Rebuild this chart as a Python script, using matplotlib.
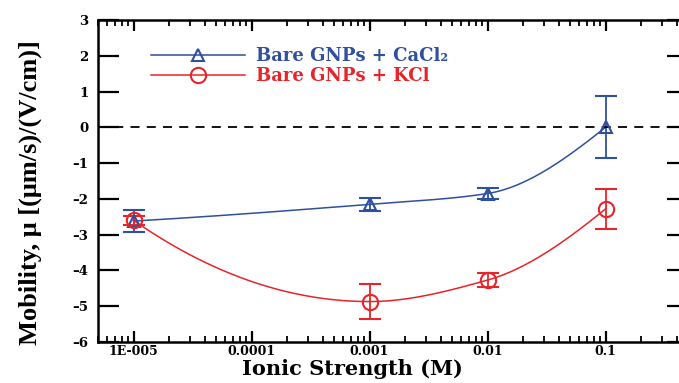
import numpy as np
import matplotlib.pyplot as plt
from matplotlib.lines import Line2D

# données
ionic = [1e-5, 1e-3, 1e-2, 1e-1]
cacl2_mob = [-2.62, -2.15, -1.85, 0.0]
cacl2_err = [0.30, 0.18, 0.15, 0.87]
kcl_mob = [-2.60, -4.87, -4.27, -2.28]
kcl_err = [0.12, 0.50, 0.20, 0.56]
xticks = [1e-5, 1e-4, 1e-3, 1e-2, 1e-1]
xtick_labels = ["1E-005", "0.0001", "0.001", "0.01", "0.1"]
yticks = [3, 2, 1, 0, -1, -2, -3, -4, -5, -6]

blue = "#2f4f9f"
red = "#e8232a"
wide = ['DejaVu Serif']          # police large pour les textes horizontaux
times = ['Liberation Serif', 'DejaVu Serif']

plt.rcParams['font.family'] = wide
plt.rcParams['font.weight'] = 'bold'


def pchip(x, y, n=200):
    """Courbe lisse monotone (PCHIP) en log10(x), comme la courbe de la figure."""
    x = np.asarray(x, float)
    y = np.asarray(y, float)
    h = np.diff(x)
    d = np.diff(y) / h
    m = np.zeros_like(y)
    for k in range(1, len(x) - 1):
        if d[k - 1] * d[k] > 0:
            w1 = 2 * h[k] + h[k - 1]
            w2 = h[k] + 2 * h[k - 1]
            m[k] = (w1 + w2) / (w1 / d[k - 1] + w2 / d[k])
    m[0] = ((2 * h[0] + h[1]) * d[0] - h[0] * d[1]) / (h[0] + h[1])
    if np.sign(m[0]) != np.sign(d[0]):
        m[0] = 0
    m[-1] = ((2 * h[-1] + h[-2]) * d[-1] - h[-1] * d[-2]) / (h[-1] + h[-2])
    if np.sign(m[-1]) != np.sign(d[-1]):
        m[-1] = 0
    xs = np.linspace(x[0], x[-1], n)
    i = np.clip(np.searchsorted(x, xs) - 1, 0, len(x) - 2)
    t = (xs - x[i]) / h[i]
    h00 = 2 * t**3 - 3 * t**2 + 1
    h10 = t**3 - 2 * t**2 + t
    h01 = -2 * t**3 + 3 * t**2
    h11 = t**3 - t**2
    ys = h00 * y[i] + h10 * h[i] * m[i] + h01 * y[i + 1] + h11 * h[i] * m[i + 1]
    return xs, ys


fig = plt.figure(figsize=(6.79, 3.83), dpi=100)
ax = fig.add_axes([98 / 679, 1 - 342 / 383, 590 / 679, 322 / 383])

for y, err, col, mk, ms in [(cacl2_mob, cacl2_err, blue, '^', 9),
                            (kcl_mob, kcl_err, red, 'o', 11)]:
    lx, ys = pchip(np.log10(ionic), y)
    ax.plot(10 ** lx, ys, color=col, lw=1.1)
    ax.errorbar(ionic, y, yerr=err, fmt=mk, color=col, mfc='none', mec=col,
                ms=ms, mew=1.5, capsize=8, elinewidth=1.3, capthick=1.3)

ax.axhline(0, color='black', ls=(0, (5, 4)), lw=1.3)

ax.set_xscale('log')
ax.set_xlim(5e-6, 0.5)
ax.set_ylim(-6, 3)
ax.set_xticks(xticks)
ax.set_xticklabels(xtick_labels)
ax.set_yticks(yticks)
ax.set_yticklabels([str(t).replace('-', '–') for t in yticks])

ax.tick_params(axis='x', which='major', direction='in', length=8, width=1.6,
               top=True, labelsize=9, pad=2.5)
ax.tick_params(axis='x', which='minor', direction='in', length=4, width=1.3, top=True)
ax.tick_params(axis='y', which='major', direction='in', length=15, width=1.6,
               right=True, labelsize=9.5, pad=7)
ax.tick_params(axis='y', which='minor', left=False, right=False)
for s in ax.spines.values():
    s.set_linewidth(1.8)

ax.set_xlabel("Ionic Strength (M)", fontsize=15, fontweight='bold')
ax.xaxis.set_label_coords(0.432, -0.052)
ax.set_ylabel("Mobility, μ [(μm/s)/(V/cm)]", fontsize=19, fontweight='bold',
              family=times)
ax.yaxis.set_label_coords(-0.095, 0.465)

handles = [
    Line2D([], [], color=blue, lw=1.1, marker='^', mfc='none', mec=blue, ms=9, mew=1.5),
    Line2D([], [], color=red, lw=1.1, marker='o', mfc='none', mec=red, ms=11, mew=1.5),
]
leg = ax.legend(handles, ["Bare GNPs + CaCl₂", "Bare GNPs + KCl"],
                loc='upper left', bbox_to_anchor=(0.09, 0.915), frameon=False,
                handlelength=5.2, handletextpad=0.6, borderpad=0, borderaxespad=0,
                labelspacing=0.1, prop={'size': 13, 'weight': 'bold'})
for txt, col in zip(leg.get_texts(), [blue, red]):
    txt.set_color(col)

fig.savefig("out.png", dpi=100)
